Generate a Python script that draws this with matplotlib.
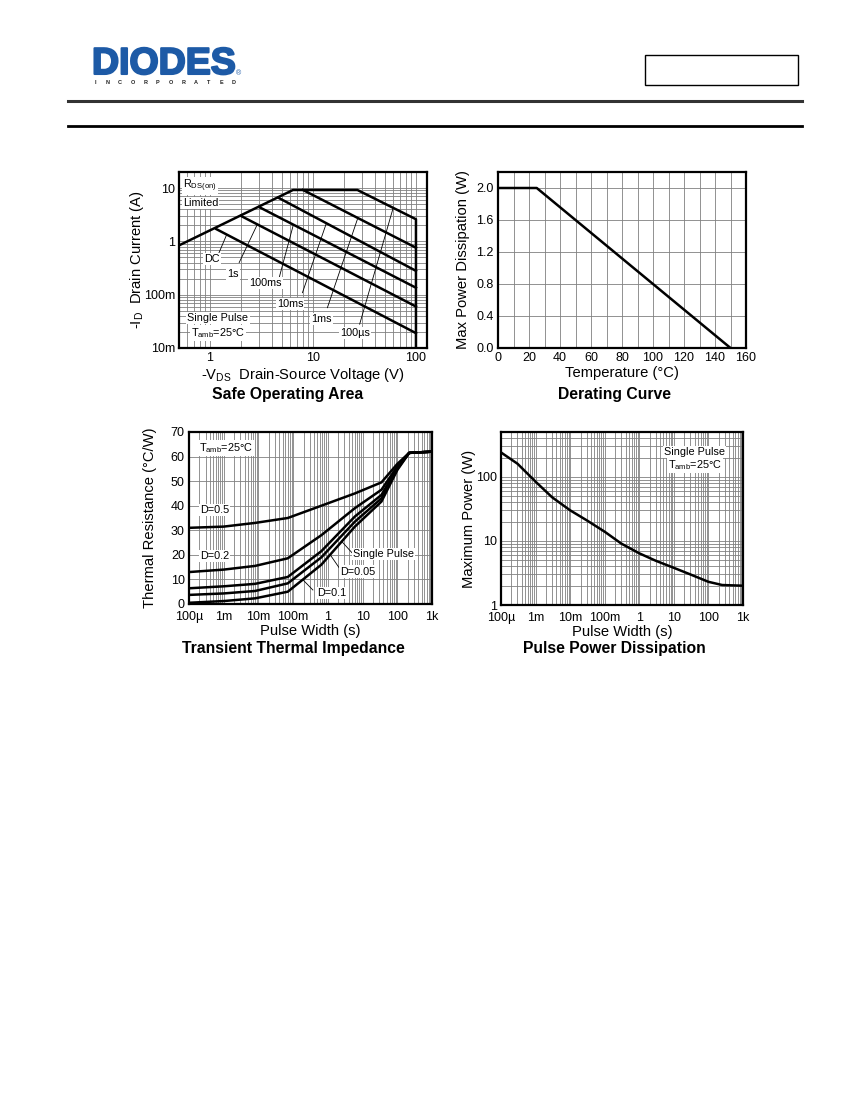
import numpy as np
import matplotlib
matplotlib.use("Agg")
import matplotlib.pyplot as plt
import matplotlib.patheffects as pe
from matplotlib.lines import Line2D
from matplotlib.patches import Rectangle
from matplotlib.ticker import FixedLocator, NullFormatter, LogLocator, MultipleLocator

plt.rcParams['font.family'] = ['Liberation Sans', 'DejaVu Sans']
plt.rcParams['mathtext.fontset'] = 'custom'
plt.rcParams['mathtext.rm'] = 'Liberation Sans'
plt.rcParams['mathtext.it'] = 'Liberation Sans'

# ---- data ----

# safe operating area: outer envelope (RDS(on) limit, current limit, 100us, 100V)
soa_env_v = [0.5, 6.4, 27, 100, 100]
soa_env_i = [0.84, 9.2, 9.2, 2.6, 0.01]
# pulse lines: start on the envelope, end at 100 V
soa_names = ["DC", "1s", "100ms", "10ms", "1ms"]
soa_v_start = [1.15, 2.0, 3.0, 4.6, 8.0]
soa_i_start = [1.7, 3.0, 4.4, 6.6, 9.2]
soa_v_end = [100, 100, 100, 100, 100]
soa_i_end = [0.019, 0.06, 0.135, 0.28, 0.76]

# derating curve
temp_c = [0, 25, 150]
pd_w = [2.0, 2.0, 0.0]

# transient thermal impedance
tw = [1e-4, 1e-3, 8e-3, 7e-2, 0.65, 6, 35, 100, 220, 1000]
rth_d05 = [31, 31.5, 33, 35, 40, 45, 49.5, 57, 61.5, 62]
rth_d02 = [13, 14, 15.5, 18.6, 28, 39, 46.5, 56, 61.5, 62]
rth_d01 = [6.4, 7.2, 8.2, 11, 21.5, 35.6, 44.4, 55.5, 61.5, 62]
rth_d005 = [3.7, 4.3, 5.3, 8.4, 19, 33.5, 43, 55, 61.5, 62]
rth_single = [0.5, 1.2, 2.3, 5, 16, 31.5, 41.7, 54.5, 61.5, 62]

# pulse power dissipation
pw = [1e-4, 3e-4, 1e-3, 3e-3, 1e-2, 3e-2, 1e-1, 3e-1, 1, 3, 10, 30, 100, 250, 1000]
pmax = [240, 160, 84, 48, 30, 21, 13.9, 9.1, 6.4, 4.9, 3.8, 3.0, 2.3, 2.05, 2.0]

time_ticks = [1e-4, 1e-3, 1e-2, 1e-1, 1, 10, 100, 1000]
time_labels = ["100µ", "1m", "10m", "100m", "1", "10", "100", "1k"]

W, H = 850, 1100
fig = plt.figure(figsize=(8.5, 11), dpi=100)

def fx(px):
    return px / W

def fy(py):
    return 1 - py / H

GRID = '#808080'
LW = 1.8
TICK_FS = 9
LAB_FS = 10.6
TITLE_FS = 11.3
ANN_FS = 7.8
box = dict(facecolor='white', edgecolor='none', pad=0.8)


def style_axes(ax, xpad=3):
    for s in ax.spines.values():
        s.set_linewidth(1.6)
        s.set_color('black')
    ax.tick_params(which='both', length=0, pad=3, labelsize=TICK_FS)
    ax.tick_params(axis='x', pad=xpad)
    ax.grid(which='both', color=GRID, linewidth=0.6)
    ax.set_axisbelow(True)


# ---- header ----
blue = '#1d5aa6'
fig.text(fx(92), fy(64), "DIODES", color=blue, fontsize=27, fontweight='bold',
         va='center', ha='left',
         path_effects=[pe.withStroke(linewidth=1.5, foreground=blue)])
fig.add_artist(Line2D([fx(92), fx(196)], [fy(64), fy(64)], transform=fig.transFigure,
                      color='white', lw=1.1))
for k, ch in enumerate("INCORPORATED"):
    fig.text(fx(95 + k * 12.6), fy(83), ch, fontsize=4, fontweight='bold',
             color='#222222', ha='center', va='center')
fig.text(fx(239), fy(74), "®", fontsize=5, color=blue, ha='center', va='center')
fig.add_artist(Rectangle((fx(645), fy(85)), fx(798) - fx(645), fy(55) - fy(85),
                         transform=fig.transFigure, fill=False, edgecolor='black', lw=1))
fig.add_artist(Line2D([fx(68), fx(802)], [fy(101), fy(101)], transform=fig.transFigure,
                      color='#333333', lw=2.2))
fig.add_artist(Line2D([fx(68), fx(802)], [fy(126), fy(126)], transform=fig.transFigure,
                      color='black', lw=2))

# ---- safe operating area ----
ax1 = fig.add_axes([fx(179), fy(348), fx(427) - fx(179), fy(172) - fy(348)])
ax1.set_xscale('log')
ax1.set_yscale('log')
ax1.set_xlim(0.5, 128)
ax1.set_ylim(0.01, 20)
ax1.plot(soa_env_v, soa_env_i, color='black', lw=LW)
for v0, i0, v1, i1 in zip(soa_v_start, soa_i_start, soa_v_end, soa_i_end):
    ax1.plot([v0, v1], [i0, i1], color='black', lw=LW)
ax1.xaxis.set_major_locator(FixedLocator([1, 10, 100]))
ax1.set_xticklabels(["1", "10", "100"])
ax1.yaxis.set_major_locator(FixedLocator([0.01, 0.1, 1, 10]))
ax1.set_yticklabels(["10m", "100m", "1", "10"])
ax1.xaxis.set_minor_locator(LogLocator(subs=np.arange(2, 10)))
ax1.yaxis.set_minor_locator(LogLocator(subs=np.arange(2, 10)))
ax1.xaxis.set_minor_formatter(NullFormatter())
ax1.yaxis.set_minor_formatter(NullFormatter())
style_axes(ax1)

soa_lab_xy = [(1.05, 0.46), (1.68, 0.24), (3.44, 0.168), (6.0, 0.068), (12.1, 0.035), (25.4, 0.019)]
soa_lab_txt = ["DC", "1s", "100ms", "10ms", "1ms", "100µs"]
soa_tail = [(1.17, 0.50), (1.92, 0.40), (4.7, 0.21), (7.9, 0.109), (13.8, 0.057), (28.4, 0.028)]
soa_head = [(1.45, 1.33), (2.87, 2.05), (6.45, 2.05), (13.5, 2.2), (27, 2.6), (60, 4.2)]
for (tx, ty), t, tl, hd in zip(soa_lab_xy, soa_lab_txt, soa_tail, soa_head):
    ax1.plot([tl[0], hd[0]], [tl[1], hd[1]], color='black', lw=0.6)
    ax1.text(tx, ty, t, fontsize=ANN_FS, ha='center', va='center', bbox=box, zorder=5)
ax1.text(0.016, 0.92, r"R$_\mathrm{DS(on)}$", transform=ax1.transAxes, fontsize=ANN_FS,
         ha='left', va='center', bbox=box, zorder=5)
ax1.text(0.016, 0.824, "Limited", transform=ax1.transAxes, fontsize=ANN_FS,
         ha='left', va='center', bbox=box, zorder=5)
ax1.text(0.157, 0.17, "Single Pulse", transform=ax1.transAxes, fontsize=ANN_FS,
         ha='center', va='center', bbox=box, zorder=5)
ax1.text(0.157, 0.085, r"T$_\mathrm{amb}$=25°C", transform=ax1.transAxes, fontsize=ANN_FS,
         ha='center', va='center', bbox=box, zorder=5)
ax1.set_ylabel(r"-I$_\mathrm{D}$  Drain Current (A)", fontsize=LAB_FS, labelpad=-1.5)
ax1.set_xlabel(r"-V$_\mathrm{DS}$  Drain-Source Voltage (V)", fontsize=LAB_FS, labelpad=1)
fig.text(fx(288), fy(394), "Safe Operating Area", fontsize=TITLE_FS, fontweight='bold',
         ha='center', va='center')

# ---- derating curve ----
ax2 = fig.add_axes([fx(498), fy(348), fx(746) - fx(498), fy(172) - fy(348)])
ax2.plot(temp_c, pd_w, color='black', lw=LW)
ax2.set_xlim(0, 160)
ax2.set_ylim(0, 2.2)
ax2.xaxis.set_major_locator(MultipleLocator(20))
ax2.xaxis.set_minor_locator(MultipleLocator(10))
ax2.yaxis.set_major_locator(FixedLocator([0, 0.4, 0.8, 1.2, 1.6, 2.0]))
ax2.set_yticklabels(["0.0", "0.4", "0.8", "1.2", "1.6", "2.0"])
style_axes(ax2)
ax2.set_xlabel("Temperature (°C)", fontsize=LAB_FS, labelpad=1)
ax2.set_ylabel("Max Power Dissipation (W)", fontsize=LAB_FS, labelpad=5)
fig.text(fx(614), fy(394), "Derating Curve", fontsize=TITLE_FS, fontweight='bold',
         ha='center', va='center')

# ---- transient thermal impedance ----
ax3 = fig.add_axes([fx(189), fy(604), fx(432) - fx(189), fy(432) - fy(604)])
ax3.set_xscale('log')
for series in [rth_d05, rth_d02, rth_d01, rth_d005, rth_single]:
    ax3.plot(tw, series, color='black', lw=LW)
ax3.set_xlim(1e-4, 1e3)
ax3.set_ylim(0, 70)
ax3.xaxis.set_major_locator(FixedLocator(time_ticks))
ax3.set_xticklabels(time_labels)
ax3.xaxis.set_minor_locator(LogLocator(subs=np.arange(2, 10), numticks=20))
ax3.xaxis.set_minor_formatter(NullFormatter())
ax3.yaxis.set_major_locator(MultipleLocator(10))
style_axes(ax3, xpad=5)
ax3.text(1.2e-3, 63.5, r"T$_\mathrm{amb}$=25°C", fontsize=ANN_FS, ha='center', va='center',
         bbox=box, zorder=5)
ax3.text(5.5e-4, 38.3, "D=0.5", fontsize=ANN_FS, ha='center', va='center', bbox=box, zorder=5)
ax3.text(5.5e-4, 19.7, "D=0.2", fontsize=ANN_FS, ha='center', va='center', bbox=box, zorder=5)
th_lab_xy = [(40, 20.3), (7.4, 13.2), (1.26, 4.4)]
th_lab_txt = ["Single Pulse", "D=0.05", "D=0.1"]
th_tail = [(5, 20.8), (2.3, 14.0), (0.37, 5.7)]
th_head = [(2.5, 25.5), (1.2, 19.8), (0.19, 9.9)]
for (tx, ty), t, tl, hd in zip(th_lab_xy, th_lab_txt, th_tail, th_head):
    ax3.plot([tl[0], hd[0]], [tl[1], hd[1]], color='black', lw=0.6)
    ax3.text(tx, ty, t, fontsize=ANN_FS, ha='center', va='center', bbox=box, zorder=5)
ax3.set_xlabel("Pulse Width (s)", fontsize=LAB_FS, labelpad=1)
ax3.set_ylabel("Thermal Resistance (°C/W)", fontsize=LAB_FS, labelpad=10)
fig.text(fx(293), fy(649), "Transient Thermal Impedance", fontsize=TITLE_FS, fontweight='bold',
         ha='center', va='center')

# ---- pulse power dissipation ----
ax4 = fig.add_axes([fx(501), fy(605), fx(743) - fx(501), fy(432) - fy(605)])
ax4.set_xscale('log')
ax4.set_yscale('log')
ax4.plot(pw, pmax, color='black', lw=LW)
ax4.set_xlim(1e-4, 1e3)
ax4.set_ylim(1, 500)
ax4.xaxis.set_major_locator(FixedLocator(time_ticks))
ax4.set_xticklabels(time_labels)
ax4.xaxis.set_minor_locator(LogLocator(subs=np.arange(2, 10), numticks=20))
ax4.xaxis.set_minor_formatter(NullFormatter())
ax4.yaxis.set_major_locator(FixedLocator([1, 10, 100]))
ax4.set_yticklabels(["1", "10", "100"])
ax4.yaxis.set_minor_locator(LogLocator(subs=np.arange(2, 10)))
ax4.yaxis.set_minor_formatter(NullFormatter())
style_axes(ax4, xpad=5)
ax4.text(0.80, 0.882, "Single Pulse", transform=ax4.transAxes, fontsize=ANN_FS,
         ha='center', va='center', bbox=box, zorder=5)
ax4.text(0.80, 0.81, r"T$_\mathrm{amb}$=25°C", transform=ax4.transAxes, fontsize=ANN_FS,
         ha='center', va='center', bbox=box, zorder=5)
ax4.set_xlabel("Pulse Width (s)", fontsize=LAB_FS, labelpad=1)
ax4.set_ylabel("Maximum Power (W)", fontsize=LAB_FS, labelpad=0)
fig.text(fx(614), fy(649), "Pulse Power Dissipation", fontsize=TITLE_FS, fontweight='bold',
         ha='center', va='center')

fig.savefig("out.png", dpi=100, facecolor='white')
